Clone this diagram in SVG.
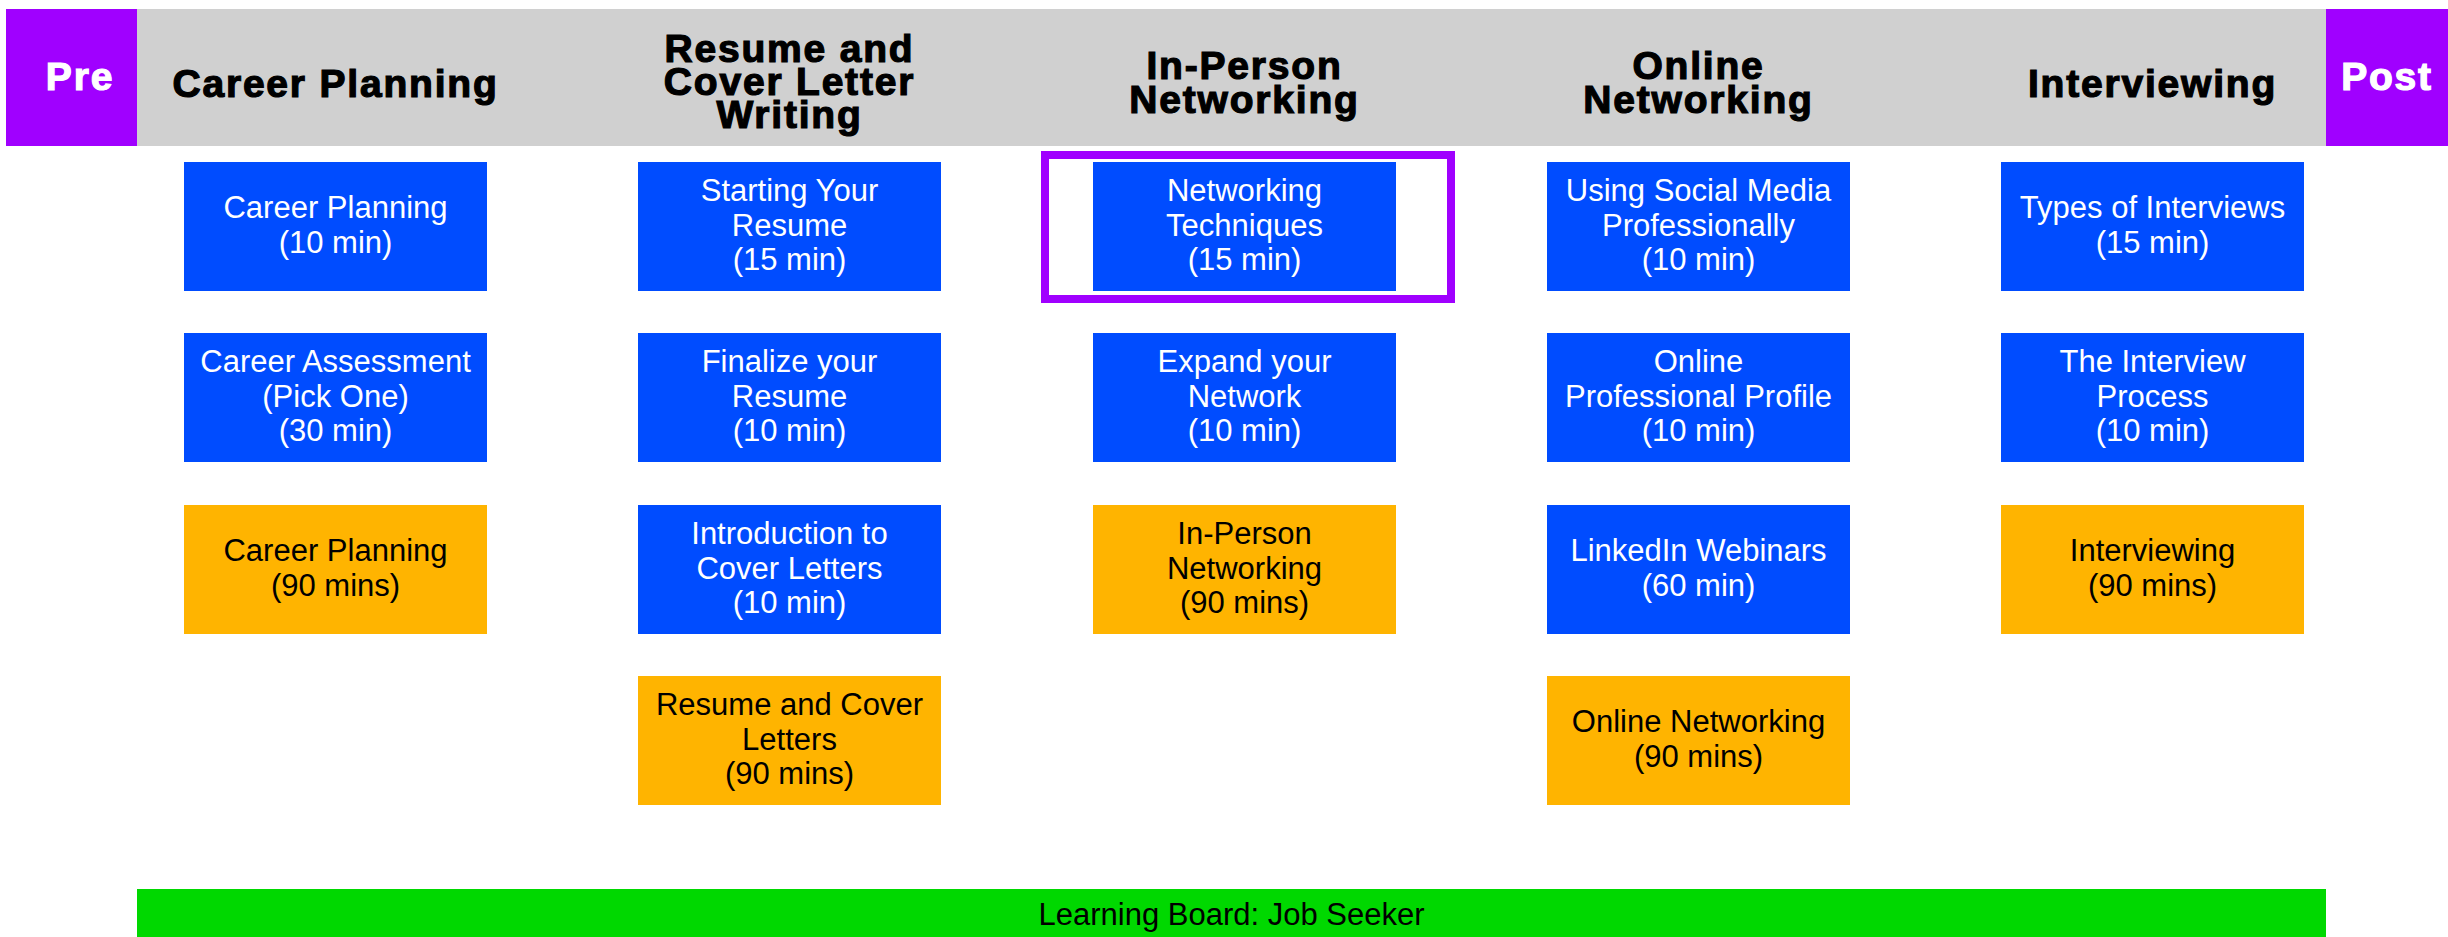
<svg xmlns="http://www.w3.org/2000/svg" width="2448" height="937" viewBox="0 0 2448 937">
<style>
.hdr{fill:#D0D0D0}
.tag{fill:#A000FF}
.tagt{font-family:"Liberation Sans",Arial,sans-serif;font-weight:bold;font-size:39px;fill:#fff;stroke:#fff;stroke-width:1.2;letter-spacing:1.8px;text-anchor:middle}
.ht{font-family:"Liberation Sans",Arial,sans-serif;font-weight:bold;font-size:39px;fill:#000;stroke:#000;stroke-width:1.2;letter-spacing:1.8px;text-anchor:middle}
.blue{fill:#004CFF}
.orange{fill:#FFB400}
.bt{font-family:"Liberation Sans",Arial,sans-serif;font-size:31px;fill:#fff;text-anchor:middle}
.ot{font-family:"Liberation Sans",Arial,sans-serif;font-size:31px;fill:#000;text-anchor:middle}
.ft{font-family:"Liberation Sans",Arial,sans-serif;font-size:31px;fill:#000;text-anchor:middle}
</style>
<rect x="0" y="0" width="2448" height="937" fill="#fff"/>
<g id="header">
<rect class="hdr" x="137" y="9" width="2189" height="137"/>
<text class="ht" x="335.5" y="97">Career Planning</text>
<text class="ht" x="789.5" y="62">Resume and</text>
<text class="ht" x="789.5" y="95">Cover Letter</text>
<text class="ht" x="789.5" y="128">Writing</text>
<text class="ht" x="1244.5" y="79">In-Person</text>
<text class="ht" x="1244.5" y="113">Networking</text>
<text class="ht" x="1698.5" y="79">Online</text>
<text class="ht" x="1698.5" y="113">Networking</text>
<text class="ht" x="2152.5" y="97">Interviewing</text>
</g>
<g id="pre">
<rect class="tag" x="6" y="9" width="131" height="137"/>
<text class="tagt" x="80" y="90">Pre</text>
</g>
<g id="post">
<rect class="tag" x="2326" y="9" width="122" height="137"/>
<text class="tagt" x="2387" y="90">Post</text>
</g>
<g id="highlight">
<rect x="1045" y="155" width="406" height="144" fill="#fff" stroke="#A000FF" stroke-width="8"/>
</g>
<g id="connectors"></g>
<!-- Column 1 -->
<g id="c1r1"><rect class="blue" x="184" y="162" width="303" height="129"/>
<text class="bt" x="335.5" y="218">Career Planning</text><text class="bt" x="335.5" y="252.5">(10 min)</text></g>
<g id="c1r2"><rect class="blue" x="184" y="333" width="303" height="129"/>
<text class="bt" x="335.5" y="372">Career Assessment</text><text class="bt" x="335.5" y="406.5">(Pick One)</text><text class="bt" x="335.5" y="441">(30 min)</text></g>
<g id="c1r3"><rect class="orange" x="184" y="505" width="303" height="129"/>
<text class="ot" x="335.5" y="561">Career Planning</text><text class="ot" x="335.5" y="595.5">(90 mins)</text></g>
<!-- Column 2 -->
<g id="c2r1"><rect class="blue" x="638" y="162" width="303" height="129"/>
<text class="bt" x="789.5" y="201">Starting Your</text><text class="bt" x="789.5" y="235.5">Resume</text><text class="bt" x="789.5" y="270">(15 min)</text></g>
<g id="c2r2"><rect class="blue" x="638" y="333" width="303" height="129"/>
<text class="bt" x="789.5" y="372">Finalize your</text><text class="bt" x="789.5" y="406.5">Resume</text><text class="bt" x="789.5" y="441">(10 min)</text></g>
<g id="c2r3"><rect class="blue" x="638" y="505" width="303" height="129"/>
<text class="bt" x="789.5" y="544">Introduction to</text><text class="bt" x="789.5" y="578.5">Cover Letters</text><text class="bt" x="789.5" y="613">(10 min)</text></g>
<g id="c2r4"><rect class="orange" x="638" y="676" width="303" height="129"/>
<text class="ot" x="789.5" y="715">Resume and Cover</text><text class="ot" x="789.5" y="749.5">Letters</text><text class="ot" x="789.5" y="784">(90 mins)</text></g>
<!-- Column 3 -->
<g id="c3r1"><rect class="blue" x="1093" y="162" width="303" height="129"/>
<text class="bt" x="1244.5" y="201">Networking</text><text class="bt" x="1244.5" y="235.5">Techniques</text><text class="bt" x="1244.5" y="270">(15 min)</text></g>
<g id="c3r2"><rect class="blue" x="1093" y="333" width="303" height="129"/>
<text class="bt" x="1244.5" y="372">Expand your</text><text class="bt" x="1244.5" y="406.5">Network</text><text class="bt" x="1244.5" y="441">(10 min)</text></g>
<g id="c3r3"><rect class="orange" x="1093" y="505" width="303" height="129"/>
<text class="ot" x="1244.5" y="544">In-Person</text><text class="ot" x="1244.5" y="578.5">Networking</text><text class="ot" x="1244.5" y="613">(90 mins)</text></g>
<!-- Column 4 -->
<g id="c4r1"><rect class="blue" x="1547" y="162" width="303" height="129"/>
<text class="bt" x="1698.5" y="201">Using Social Media</text><text class="bt" x="1698.5" y="235.5">Professionally</text><text class="bt" x="1698.5" y="270">(10 min)</text></g>
<g id="c4r2"><rect class="blue" x="1547" y="333" width="303" height="129"/>
<text class="bt" x="1698.5" y="372">Online</text><text class="bt" x="1698.5" y="406.5">Professional Profile</text><text class="bt" x="1698.5" y="441">(10 min)</text></g>
<g id="c4r3"><rect class="blue" x="1547" y="505" width="303" height="129"/>
<text class="bt" x="1698.5" y="561">LinkedIn Webinars</text><text class="bt" x="1698.5" y="595.5">(60 min)</text></g>
<g id="c4r4"><rect class="orange" x="1547" y="676" width="303" height="129"/>
<text class="ot" x="1698.5" y="732">Online Networking</text><text class="ot" x="1698.5" y="766.5">(90 mins)</text></g>
<!-- Column 5 -->
<g id="c5r1"><rect class="blue" x="2001" y="162" width="303" height="129"/>
<text class="bt" x="2152.5" y="218">Types of Interviews</text><text class="bt" x="2152.5" y="252.5">(15 min)</text></g>
<g id="c5r2"><rect class="blue" x="2001" y="333" width="303" height="129"/>
<text class="bt" x="2152.5" y="372">The Interview</text><text class="bt" x="2152.5" y="406.5">Process</text><text class="bt" x="2152.5" y="441">(10 min)</text></g>
<g id="c5r3"><rect class="orange" x="2001" y="505" width="303" height="129"/>
<text class="ot" x="2152.5" y="561">Interviewing</text><text class="ot" x="2152.5" y="595.5">(90 mins)</text></g>
<g id="footer">
<rect x="137" y="889" width="2189" height="48" fill="#00D800"/>
<text class="ft" x="1231.5" y="925">Learning Board: Job Seeker</text>
</g>
</svg>
